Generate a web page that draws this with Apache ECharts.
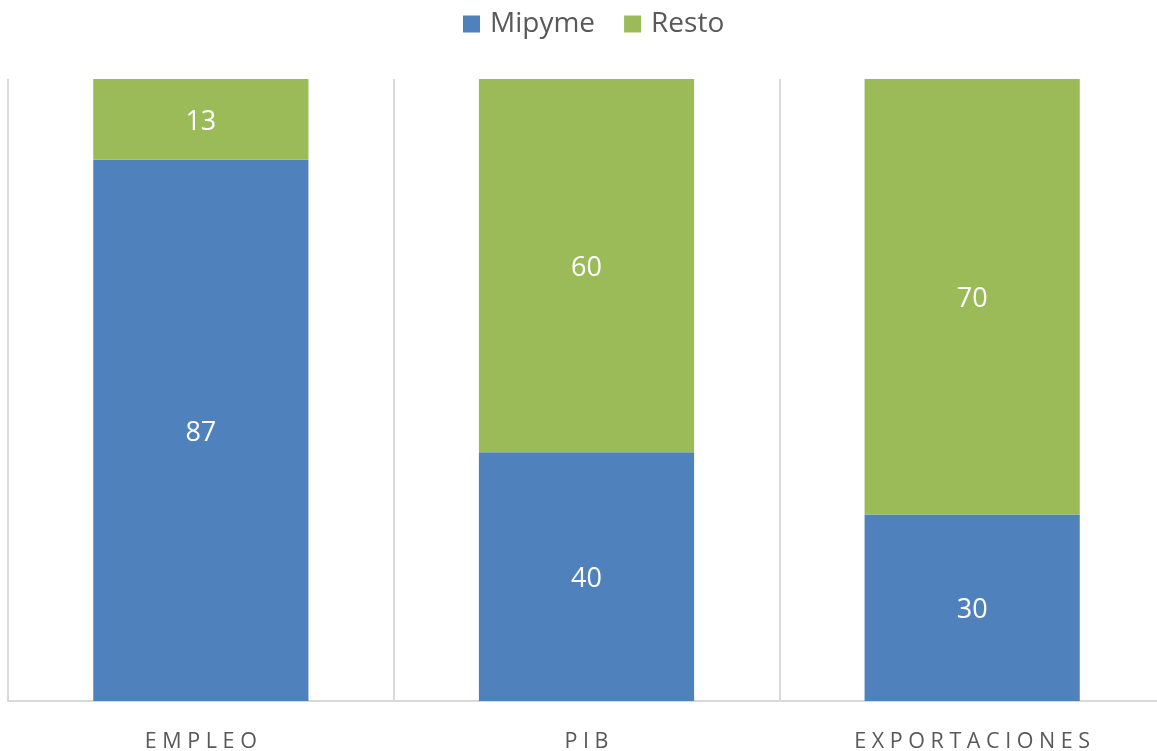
<!DOCTYPE html>
<html lang="es">
<head>
    <meta charset="UTF-8">
    <title>Mipyme vs Resto</title>
    <script src="https://cdn.jsdelivr.net/npm/echarts@6.0.0/dist/echarts.min.js"></script>
    <style>
        body { margin: 0; background: #fff; }
        #chart { width: 1157px; height: 751px; }
    </style>
</head>
<body>
    <div id="chart"></div>
    <script>
        var categories = ['EMPLEO', 'PIB', 'EXPORTACIONES'];
        var mipyme = [87, 40, 30];
        var resto = [13, 60, 70];

        // spread the letters out a little, like the original axis labels
        function spaced(s) {
            return s.split('').join(' ');
        }

        var chart = echarts.init(document.getElementById('chart'));
        var font = "'Open Sans', sans-serif";

        var labelStyle = {
            show: true,
            position: 'inside',
            color: '#fff',
            fontSize: 27,
            fontFamily: font,
            offset: [0, 3]
        };

        chart.setOption({
            animation: false,
            legend: {
                top: 5,
                left: 458,
                itemWidth: 17,
                itemHeight: 17,
                itemGap: 29,
                icon: 'rect',
                textStyle: { color: '#595959', fontSize: 28, fontFamily: font, padding: [0, 0, 0, 5] },
                data: ['Mipyme', 'Resto']
            },
            grid: {
                left: 8,
                top: 79,
                bottom: 50,
                right: -8,
                outerBoundsMode: 'none',
                containLabel: false
            },
            xAxis: {
                type: 'category',
                data: categories,
                axisLine: { lineStyle: { color: '#d9d9d9', width: 2 } },
                axisTick: { show: false },
                splitLine: { show: true, showMaxLine: false, lineStyle: { color: '#d9d9d9', width: 2 } },
                axisLabel: {
                    margin: 30,
                    color: '#595959',
                    fontSize: 21.5,
                    fontFamily: font,
                    formatter: spaced
                }
            },
            yAxis: {
                type: 'value',
                min: 0,
                max: 100,
                show: false,
                splitLine: { show: false }
            },
            series: [
                {
                    name: 'Mipyme',
                    type: 'bar',
                    stack: 'total',
                    barWidth: '55.8%',
                    itemStyle: { color: '#4f81bd' },
                    label: labelStyle,
                    data: mipyme
                },
                {
                    name: 'Resto',
                    type: 'bar',
                    stack: 'total',
                    barWidth: '55.8%',
                    itemStyle: { color: '#9bbb59' },
                    label: labelStyle,
                    data: resto
                }
            ]
        });
    </script>
</body>
</html>
